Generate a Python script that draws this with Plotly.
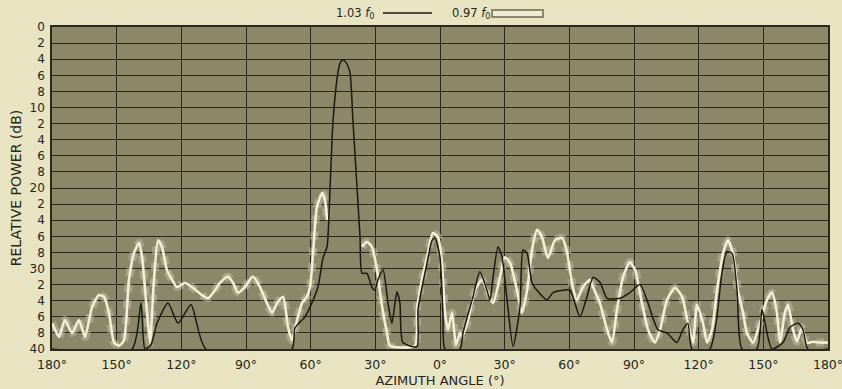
import plotly.graph_objects as go

# ---- data (azimuth angle in degrees, relative power in dB) ----
f103_angle = [-180, -142.9, -138.7, -136.9, -134.1, -131.3, -126.2, -121.5, -115.5, -108.6,
              -68.7, -67.3, -62.6, -60.3, -56.6, -54.3, -52.4, -51.0, -49.6, -47.3, -46.2, -45.0,
              -43.6, -41.8, -40.4, -38.5, -37.1, -36.2, -33.9, -31.6, -30.2, -28.8, -26.4, -24.1,
              -22.3, -20.0, -18.6, -17.2, -10.7, -10.2, -6.0, -3.7, -2.3, 0.0, 1.4, 2.3,
              9.3, 10.7, 15.3, 18.5, 21.8, 23.2, 24.6, 26.9, 28.8, 31.1, 33.9, 37.1, 38.5,
              40.4, 42.7, 45.0, 49.6, 52.4, 57.1, 60.3, 64.9, 68.2, 71.0, 74.2, 77.5, 83.5,
              88.1, 92.8, 96.0, 101.1, 105.3, 109.9, 112.7, 115.0, 116.9, 125.2, 126.6,
              128.5, 130.8, 133.1, 135.5, 137.8, 140.1, 147.0, 149.4, 150.8, 154.0, 159.1,
              162.4, 166.1, 168.4, 170.7, 180]
f103_db = [40, 40, 34.3, 40, 39.5, 36.8, 34.3, 36.8, 34.5, 40,
           40, 37.4, 36.0, 34.8, 32.3, 28.7, 27.3, 19.9, 11.6, 5.6, 4.4, 4.1,
           4.4, 5.6, 11.6, 19.9, 26.1, 30.6, 30.6, 32.3, 32.7, 31.4, 30.2, 34.3,
           36.8, 32.9, 34.3, 39.2, 39.7, 35.1, 29.3, 26.5, 26.2, 28.6, 36.0, 40,
           40, 38.0, 33.5, 30.4, 32.7, 33.9, 31.1, 27.3, 28.6, 33.9, 39.7, 34.8, 27.7,
           28.1, 31.8, 32.7, 33.9, 33.0, 32.7, 32.7, 36.0, 33.5, 31.1, 31.7, 33.7, 33.7,
           33.0, 32.0, 33.9, 37.6, 38.0, 39.2, 37.6, 36.8, 40, 40, 38.9,
           36.0, 30.6, 27.9, 28.1, 32.7, 40, 40, 35.1, 36.8, 40, 39.2,
           37.3, 36.8, 37.6, 40, 40]

f097_angle = [-180, -179.1, -176.8, -174.0, -170.7, -167.5, -164.7, -161.4, -158.2, -155.9,
              -153.6, -151.2, -148.9, -146.6, -144.3, -142.0, -139.6, -138.2, -135.9, -134.5,
              -132.7, -130.8, -129.0, -126.7, -124.3, -122.0, -118.3, -115.1, -110.4, -107.6,
              -104.4, -102.1, -98.4, -96.0, -93.7, -90.5, -86.8, -83.5, -80.3, -77.9, -75.6,
              -72.8, -70.5, -68.7, -66.3, -64.0, -61.7, -60.3, -58.9, -57.1, -54.7, -53.4,
              -52.4, None, -36.2, -33.9, -31.6, -29.2, -27.8, -26.4, -24.6, -23.2, -11.6,
              -10.7, -8.4, -6.0, -3.3, -0.9, 0.9, 2.3, 3.7, 5.6, 7.4, 9.3, 10.2, 13.0, 16.2,
              19.5, 21.8, 24.6, 27.8, 30.1, 32.5, 35.7, 38.0, 40.4, 42.7, 45.0, 47.3, 50.1,
              53.3, 56.6, 58.9, 61.2, 63.5, 66.3, 69.6, 71.0, 74.2, 77.5, 79.8, 82.1, 84.9,
              88.1, 90.5, 93.7, 96.5, 99.7, 102.1, 105.3, 109.0, 112.3, 115.0, 117.4, 119.2,
              122.0, 123.9, 126.2, 128.5, 131.3, 133.6, 135.9, 138.2, 140.6, 142.4, 145.2,
              148.4, 151.7, 154.0, 156.3, 157.7, 160.0, 161.4, 163.8, 165.6, 167.9, 170.2,
              173.0, 176.3, 180]
f097_db = [36.8, 37.3, 38.5, 36.4, 38.0, 36.4, 38.5, 34.8, 33.3, 33.5,
           35.5, 39.2, 39.6, 38.9, 31.4, 28.1, 26.8, 28.6, 35.5, 39.2,
           31.4, 26.5, 27.3, 30.2, 31.4, 32.3, 31.8, 32.3, 33.3, 33.7,
           32.7, 31.8, 31.0, 31.8, 33.0, 32.3, 31.0, 32.3, 34.3, 35.5, 34.3,
           33.5, 37.3, 38.9, 36.4, 34.3, 33.5, 32.3, 28.1, 22.4, 20.6, 21.5,
           24.0, None, 27.3, 26.7, 27.3, 30.2, 33.0, 35.5, 38.0, 39.6, 39.6,
           35.1, 31.4, 28.6, 25.6, 26.1, 29.3, 35.5, 37.6, 35.5, 39.5, 38.0, 38.5, 36.4, 32.7,
           31.4, 32.7, 34.3, 31.1, 28.6, 29.3, 32.7, 35.5, 32.7, 27.7, 25.2, 26.1, 28.7,
           26.5, 26.2, 27.9, 31.8, 33.9, 32.3, 31.4, 32.3, 34.3, 37.6, 39.2, 35.1, 31.1,
           29.2, 30.2, 34.3, 37.6, 39.2, 37.6, 33.9, 32.4, 33.5, 36.8, 39.2, 34.5,
           36.8, 39.2, 37.6, 32.7, 28.1, 26.5, 28.1, 32.7, 35.5, 38.0, 39.2,
           36.8, 33.9, 33.0, 35.5, 39.2, 35.5, 34.5, 37.6, 39.1, 37.3, 39.2,
           39.1, 39.2, 39.2]

x_tickvals = [-180, -150, -120, -90, -60, -30, 0, 30, 60, 90, 120, 150, 180]
x_ticktext = ["180°", "150°", "120°", "90°", "60°", "30°", "0°", "30°", "60°", "90°",
              "120°", "150°", "180°"]
y_tickvals = list(range(0, 41, 2))
y_ticktext = ["0", "2", "4", "6", "8", "10", "2", "4", "6", "8", "20", "2", "4", "6", "8",
              "30", "2", "4", "6", "8", "40"]

PAPER = "#e8e4c2"
PLOT = "#8b886a"
GRID = "#2a2818"
FONT = "DejaVu Sans"
TXT = "#26251c"

fig = go.Figure()
# halo of the 0.97 f0 trace
fig.add_trace(go.Scatter(x=f097_angle, y=f097_db, mode="lines",
                         line=dict(color="rgba(190,186,160,0.55)", width=8, dash="dot",
                                   shape="spline", smoothing=0.6),
                         hoverinfo="skip", showlegend=False))
fig.add_trace(go.Scatter(x=f097_angle, y=f097_db, mode="lines", name="0.97 f0",
                         line=dict(color="#f1eed6", width=2.6, shape="spline", smoothing=0.6),
                         showlegend=False))
fig.add_trace(go.Scatter(x=f103_angle, y=f103_db, mode="lines", name="1.03 f0",
                         line=dict(color="#1b1a10", width=1.5, shape="spline", smoothing=0.6),
                         showlegend=False))

fig.update_layout(
    width=842, height=389,
    margin=dict(l=52, r=14, t=27, b=40),
    paper_bgcolor=PAPER, plot_bgcolor=PLOT,
    font=dict(family=FONT, color=TXT, size=12),
    xaxis=dict(range=[-180, 180], tickvals=x_tickvals, ticktext=x_ticktext, automargin=False,
               showgrid=True, gridcolor=GRID, gridwidth=1.4, zeroline=False,
               showline=True, linecolor=GRID, linewidth=1.5, mirror=True,
               ticks="", ticklabelstandoff=3, ticklabeloverflow="allow",
               tickfont=dict(size=12.5, family=FONT, color=TXT),
               title=dict(text="AZIMUTH ANGLE (°)", font=dict(size=13, family=FONT, color=TXT),
                          standoff=5)),
    yaxis=dict(range=[40, 0], tickvals=y_tickvals, ticktext=y_ticktext, automargin=False,
               showgrid=True, gridcolor=GRID, gridwidth=1.4, zeroline=False,
               showline=True, linecolor=GRID, linewidth=1.5, mirror=True,
               ticks="", ticklabelstandoff=3, tickfont=dict(size=12, family=FONT, color=TXT),
               title=dict(text="RELATIVE POWER (dB)", font=dict(size=14, family=FONT, color=TXT),
                          standoff=5)),
)

# legend (top centre)
LY = 1 + (27 - 13) / 322
fig.add_annotation(xref="paper", yref="paper", x=(376 - 52) / 776, y=LY,
                   text="1.03 <i>f</i><sub>0</sub>", showarrow=False, xanchor="right",
                   yanchor="middle", font=dict(size=11.5, family=FONT, color=TXT))
fig.add_shape(type="line", xref="paper", yref="paper",
              x0=(383 - 52) / 776, x1=(432 - 52) / 776, y0=LY, y1=LY,
              line=dict(color="#1b1a10", width=1.5))
fig.add_annotation(xref="paper", yref="paper", x=(492 - 52) / 776, y=LY,
                   text="0.97 <i>f</i><sub>0</sub>", showarrow=False, xanchor="right",
                   yanchor="middle", font=dict(size=11.5, family=FONT, color=TXT))
fig.add_shape(type="rect", xref="paper", yref="paper",
              x0=(492 - 52) / 776, x1=(543 - 52) / 776,
              y0=1 + (27 - 17) / 322, y1=1 + (27 - 10) / 322,
              fillcolor="#efecd6", line=dict(color="#8b886a", width=2))

fig.write_html("out.html")
